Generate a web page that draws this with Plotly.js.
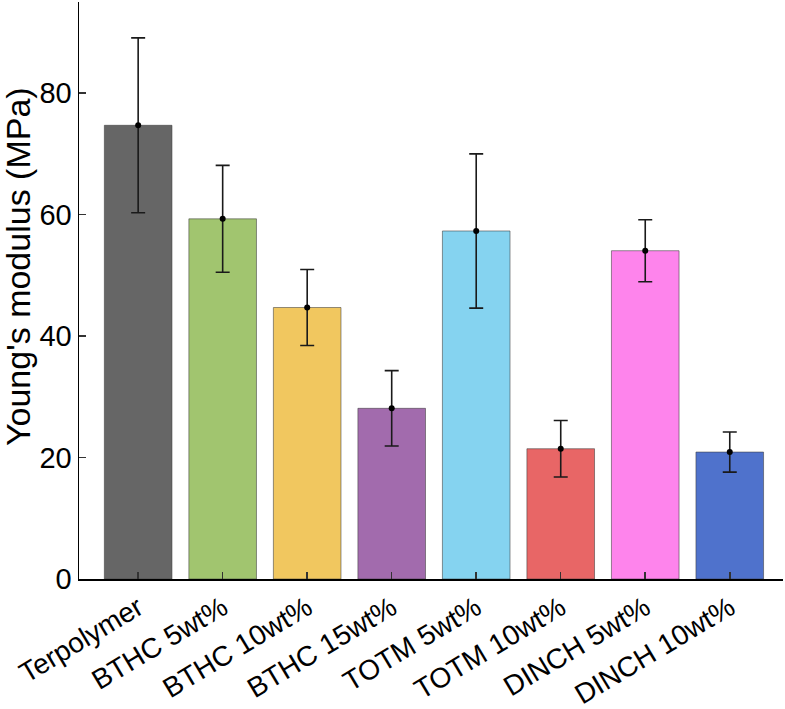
<!DOCTYPE html>
<html>
<head>
<meta charset="utf-8">
<script src="https://cdn.plot.ly/plotly-3.0.1.min.js"></script>
<style>html,body{margin:0;padding:0;background:#fff;}#chart{width:785px;height:709px;}</style>
</head>
<body>
<div id="chart"></div>
<script>
const categories = ["Terpolymer", "BTHC 5wt%", "BTHC 10wt%", "BTHC 15wt%", "TOTM 5wt%", "TOTM 10wt%", "DINCH 5wt%", "DINCH 10wt%"];
const modulus = [74.7, 59.3, 44.7, 28.1, 57.3, 21.45, 54.05, 20.9];
const errors = [14.4, 8.8, 6.25, 6.2, 12.7, 4.65, 5.1, 3.3];
const colors = ["#666666", "#a1c56f", "#f1c75f", "#a26bad", "#85d3f0", "#e86666", "#fe84ec", "#4f72cc"];
const yTitle = "Young's modulus (MPa)";

const FONT = "Liberation Sans, Arial, sans-serif";

const bars = {
  type: "bar",
  x: categories,
  y: modulus,
  marker: {color: colors, line: {color: "rgba(60,60,60,0.55)", width: 1}},
  error_y: {type: "data", array: errors, visible: true, color: "#1a1a1a", thickness: 1.6, width: 7},
  hoverinfo: "x+y",
  showlegend: false
};
const dots = {
  type: "scatter",
  mode: "markers",
  x: categories,
  y: modulus,
  marker: {color: "#000", size: 6},
  showlegend: false
};

const layout = {
  width: 785,
  height: 709,
  margin: {l: 79, r: 2, t: 2, b: 130},
  paper_bgcolor: "#fff",
  plot_bgcolor: "#fff",
  bargap: 0.2,
  font: {family: FONT, color: "#000"},
  xaxis: {
    type: "category",
    range: [-0.7, 7.63],
    showline: true, linecolor: "#000", linewidth: 1.5,
    ticks: "inside", ticklen: 7, tickwidth: 1.5, tickcolor: "#333",
    tickangle: -31,
    tickfont: {size: 28, family: FONT, color: "#000"},
    showgrid: false, zeroline: false
  },
  yaxis: {
    range: [0, 95],
    tickvals: [0, 20, 40, 60, 80],
    showline: true, linecolor: "#000", linewidth: 1.5,
    ticks: "inside", ticklen: 7, tickwidth: 1.5, tickcolor: "#333",
    tickfont: {size: 29, family: FONT, color: "#000"},
    showgrid: false, zeroline: false
  },
  annotations: [{
    text: yTitle,
    xref: "paper", yref: "paper",
    x: -79/704, y: (709 - 2 - 265 - 130) / 577,
    xanchor: "left", yanchor: "middle",
    xshift: -3,
    textangle: -90,
    showarrow: false,
    font: {size: 34, family: FONT, color: "#000"}
  }]
};

Plotly.newPlot("chart", [bars, dots], layout, {displayModeBar: false, staticPlot: true});
</script>
</body>
</html>
